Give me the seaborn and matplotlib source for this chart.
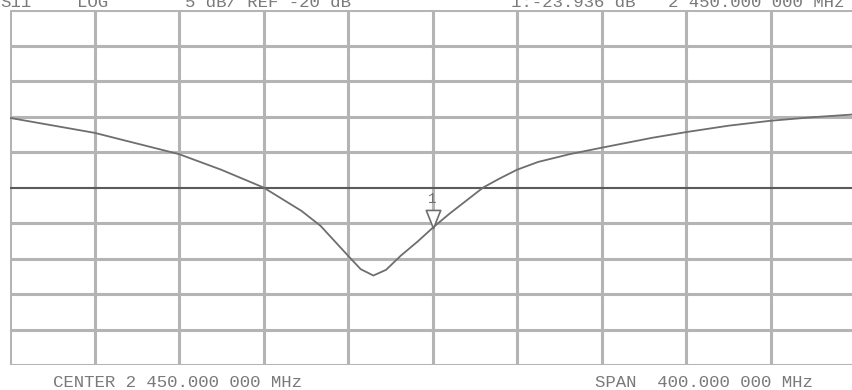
import numpy as np
import pandas as pd
import matplotlib
matplotlib.use("Agg")
import matplotlib.pyplot as plt
from matplotlib.path import Path
import seaborn as sns

# ---- data ----
freq_mhz = [2250, 2290, 2330, 2350, 2370, 2388, 2397, 2410, 2416, 2422, 2428,
            2435, 2443, 2450, 2458, 2474, 2482, 2490, 2500, 2515, 2530, 2554,
            2570, 2590, 2610, 2630, 2650]
s11_db = [-10.2, -12.3, -15.3, -17.5, -20.0, -23.3, -25.4, -29.6, -31.5, -32.4,
          -31.6, -29.6, -27.6, -25.7, -23.7, -20.0, -18.7, -17.5, -16.4, -15.3,
          -14.4, -13.0, -12.2, -11.3, -10.6, -10.1, -9.7]
marker_freq = 2450
marker_label = "1"
center_mhz = 2450
span_mhz = 400
scale_db = 5
ref_db = -20
header_texts = ["S11", "LOG", "5 dB/ REF -20 dB", "1:-23.936 dB", "2 450.000 000 MHz"]
footer_texts = ["CENTER 2 450.000 000 MHz", "SPAN  400.000 000 MHz"]

df = pd.DataFrame({"freq": freq_mhz, "s11": s11_db})

sns.set_style("white")
plt.rcParams["font.family"] = ["Liberation Mono", "DejaVu Sans Mono"]

W, H = 852, 390
fig = plt.figure(figsize=(W / 100, H / 100), dpi=100)
fig.patch.set_facecolor("white")
ax = fig.add_axes([10 / W, 25 / H, 845 / W, 355 / H])
ax.set_facecolor("white")

fmin = center_mhz - span_mhz / 2
fmax = center_mhz + span_mhz / 2
ymax = ref_db + 5 * scale_db
ymin = ref_db - 5 * scale_db
ax.set_xlim(fmin, fmax)
ax.set_ylim(ymin, ymax)

grid_c = "#b4b4b4"
for f in np.linspace(fmin, fmax, 11):
    ax.axvline(f, color=grid_c, lw=2.2, zorder=1)
for d in np.linspace(ymin, ymax, 11):
    if abs(d - ref_db) < 1e-9:
        continue
    ax.axhline(d, color=grid_c, lw=2.2, zorder=1)
ax.axhline(ref_db, color="#5a5a5a", lw=1.5, zorder=2)

sns.lineplot(data=df, x="freq", y="s11", ax=ax, color="#6e6e6e", lw=1.3,
             zorder=3, legend=False)

# marker: downward triangle with tip on the trace
my = float(np.interp(marker_freq, freq_mhz, s11_db))
tri = Path([(-0.40, 1.0), (0.40, 1.0), (0.0, 0.0), (-0.40, 1.0)],
           [Path.MOVETO, Path.LINETO, Path.LINETO, Path.CLOSEPOLY])
ax.plot([marker_freq], [my], marker=tri, markersize=26, mfc="white",
        mec="#6e6e6e", mew=1.2, ls="none", zorder=4)
ax.annotate(marker_label, (marker_freq, my), xytext=(0, 15.5),
            textcoords="offset points", ha="center", va="bottom",
            color="#6e6e6e", fontsize=10, zorder=5)

ax.set_xticks([])
ax.set_yticks([])
ax.set_xlabel("")
ax.set_ylabel("")
for s in ax.spines.values():
    s.set_visible(False)

txt_c = "#7a7a7a"
fs = 12.5
hx = [0, 77, 185, 511, 668]
for x, t in zip(hx, header_texts):
    fig.text(x / W, 1 - 7 / H, t, ha="left", va="baseline", color=txt_c,
             fontsize=fs)
fx = [53, 595]
for x, t in zip(fx, footer_texts):
    fig.text(x / W, 1 - 387 / H, t, ha="left", va="baseline", color=txt_c,
             fontsize=fs)

fig.savefig("out.png", dpi=100, facecolor="white")
